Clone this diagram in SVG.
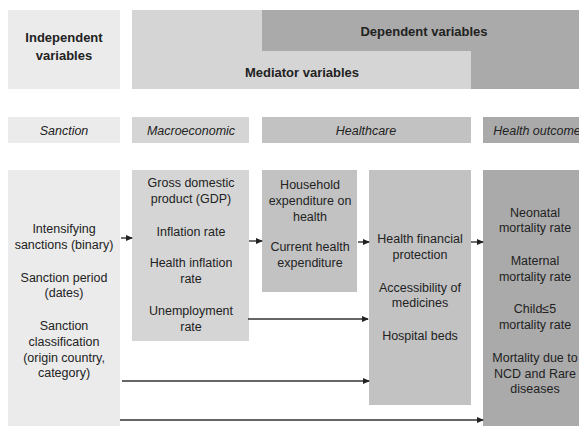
<svg xmlns="http://www.w3.org/2000/svg" width="579" height="426" viewBox="0 0 579 426">
  <defs>
    <style>
      text { font-family: "Liberation Sans", Arial, sans-serif; fill: #222; text-anchor: middle; }
      .t { font-size: 12.5px; }
      .h { font-size: 13px; font-weight: bold; }
      .i { font-size: 12.5px; font-style: italic; }
      .c1 { fill: #ebebeb; }
      .c2 { fill: #d5d5d5; }
      .c3 { fill: #c2c2c2; }
      .c4 { fill: #aaaaaa; }
      .ln { stroke: #333; stroke-width: 1.4; fill: none; marker-end: url(#ah); }
    </style>
    <marker id="ah" markerUnits="userSpaceOnUse" markerWidth="7" markerHeight="6" refX="6" refY="3" orient="auto">
      <path d="M0,0 L7,3 L0,6 z" fill="#222"/>
    </marker>
  </defs>

  <rect width="579" height="426" fill="#fff"/>

  <!-- header band -->
  <g id="hdr-independent">
    <rect class="c1" x="8" y="10" width="112" height="79"/>
    <text class="h" x="64" y="42">Independent</text>
    <text class="h" x="64" y="60">variables</text>
  </g>
  <g id="hdr-mediator">
    <rect class="c2" x="132" y="10" width="339" height="79"/>
    <text class="h" x="302" y="77">Mediator variables</text>
  </g>
  <g id="hdr-dependent">
    <polygon class="c4" points="262,10 587,10 587,89 471,89 471,51 262,51"/>
    <text class="h" x="424" y="36">Dependent variables</text>
  </g>

  <!-- category labels -->
  <g id="cat-sanction">
    <rect class="c1" x="8" y="117" width="112" height="26"/>
    <text class="i" x="64" y="135">Sanction</text>
  </g>
  <g id="cat-macro">
    <rect class="c2" x="132" y="117" width="117" height="26"/>
    <text class="i" x="191" y="135">Macroeconomic</text>
  </g>
  <g id="cat-healthcare">
    <rect class="c3" x="262" y="117" width="209" height="26"/>
    <text class="i" x="366" y="135">Healthcare</text>
  </g>
  <g id="cat-outcome">
    <rect class="c4" x="483" y="117" width="104" height="26"/>
    <text class="i" x="537" y="135">Health outcome</text>
  </g>

  <!-- variable boxes -->
  <g id="box-sanction">
    <rect class="c1" x="8" y="170" width="112" height="256"/>
    <text class="t" x="64" y="233">Intensifying</text>
    <text class="t" x="64" y="249">sanctions (binary)</text>
    <text class="t" x="64" y="282">Sanction period</text>
    <text class="t" x="64" y="297">(dates)</text>
    <text class="t" x="64" y="330">Sanction</text>
    <text class="t" x="64" y="346">classification</text>
    <text class="t" x="64" y="362">(origin country,</text>
    <text class="t" x="64" y="377">category)</text>
  </g>
  <g id="box-macro">
    <rect class="c2" x="132" y="170" width="117" height="171"/>
    <text class="t" x="191" y="187">Gross domestic</text>
    <text class="t" x="191" y="203">product (GDP)</text>
    <text class="t" x="191" y="236">Inflation rate</text>
    <text class="t" x="191" y="267">Health inflation</text>
    <text class="t" x="191" y="283">rate</text>
    <text class="t" x="191" y="315">Unemployment</text>
    <text class="t" x="191" y="331">rate</text>
  </g>
  <g id="box-expenditure">
    <rect class="c3" x="262" y="170" width="95" height="122"/>
    <text class="t" x="310" y="189">Household</text>
    <text class="t" x="310" y="205">expenditure on</text>
    <text class="t" x="310" y="221">health</text>
    <text class="t" x="310" y="251">Current health</text>
    <text class="t" x="310" y="267">expenditure</text>
  </g>
  <g id="box-access">
    <rect class="c3" x="369" y="170" width="102" height="235"/>
    <text class="t" x="420" y="243">Health financial</text>
    <text class="t" x="420" y="259">protection</text>
    <text class="t" x="420" y="292">Accessibility of</text>
    <text class="t" x="420" y="307">medicines</text>
    <text class="t" x="420" y="340">Hospital beds</text>
  </g>
  <g id="box-outcome">
    <rect class="c4" x="483" y="170" width="104" height="256"/>
    <text class="t" x="535" y="217">Neonatal</text>
    <text class="t" x="535" y="232">mortality rate</text>
    <text class="t" x="535" y="265">Maternal</text>
    <text class="t" x="535" y="281">mortality rate</text>
    <text class="t" x="535" y="313">Child≤5</text>
    <text class="t" x="535" y="329">mortality rate</text>
    <text class="t" x="535" y="362">Mortality due to</text>
    <text class="t" x="535" y="378">NCD and Rare</text>
    <text class="t" x="535" y="393">diseases</text>
  </g>

  <!-- connectors -->
  <g id="connectors">
    <line class="ln" x1="121" y1="238" x2="132" y2="238"/>
    <line class="ln" x1="249" y1="241" x2="262" y2="241"/>
    <line class="ln" x1="358" y1="242" x2="369" y2="242"/>
    <line class="ln" x1="471" y1="242" x2="483" y2="242"/>
    <line class="ln" x1="248" y1="319" x2="368" y2="319"/>
    <line class="ln" x1="122" y1="381" x2="369" y2="381"/>
    <line class="ln" x1="120" y1="420" x2="483" y2="420"/>
  </g>
</svg>
